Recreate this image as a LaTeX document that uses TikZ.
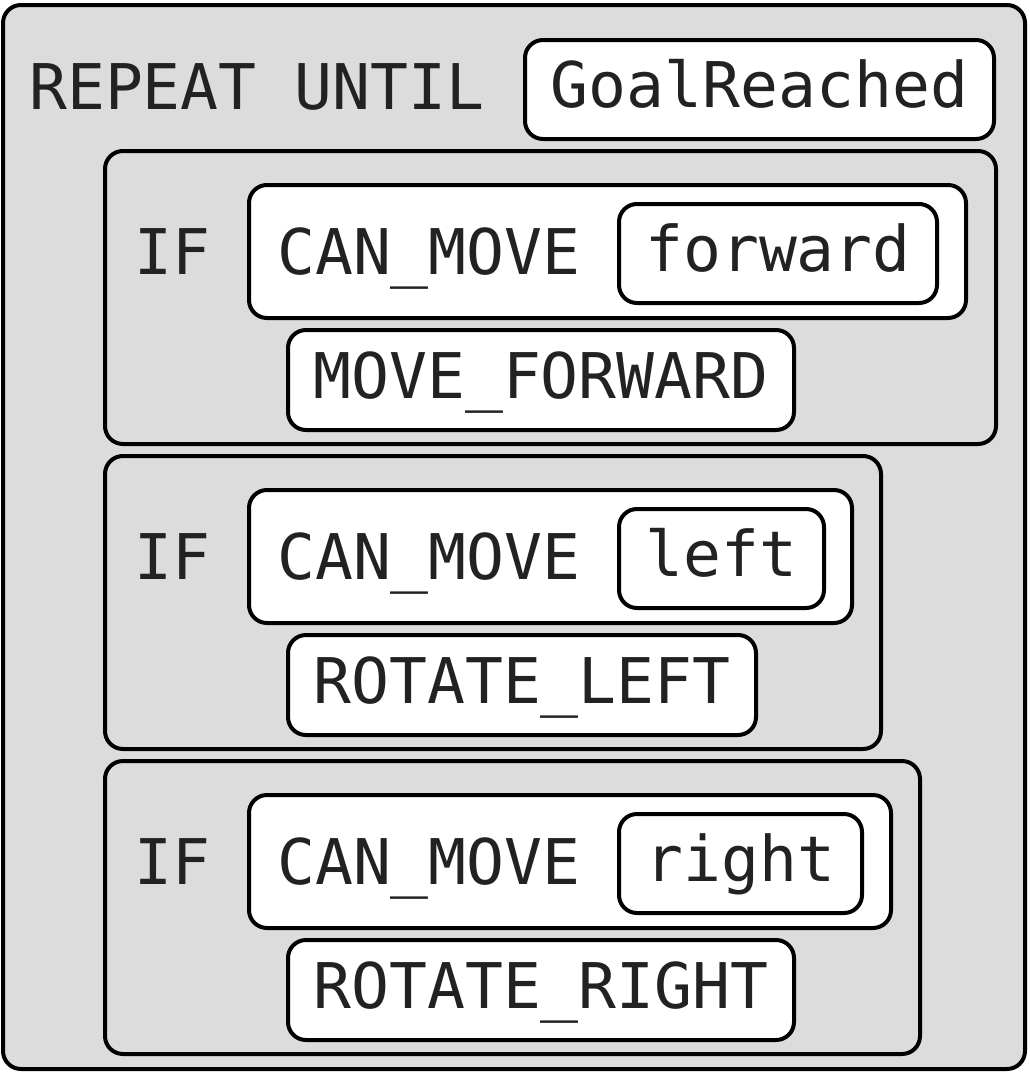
\documentclass[tikz,border=0pt]{standalone}
\usepackage{fontspec}
\setmonofont{DejaVu Sans Mono}
\definecolor{blockgray}{HTML}{DCDCDC}
\definecolor{inktext}{HTML}{222222}
\begin{document}
\begin{tikzpicture}
		[	x=1pt,y=-1pt,
		block/.style={rectangle,draw=black,line width=4pt,rounded corners=18pt,fill=blockgray,inner sep=0pt},
		slot/.style={rectangle,draw=black,line width=4pt,rounded corners=18pt,fill=white,inner sep=0pt,
			text=inktext,font=\ttfamily\fontsize{63pt}{76pt}\selectfont,text height=50.4pt,text depth=13.9pt},
		plain/.style={draw=none,fill=none,inner sep=0pt,anchor=base west,text=inktext,
			font=\ttfamily\fontsize{63pt}{76pt}\selectfont}
		]
		\useasboundingbox (0,0) rectangle (1030,1076);
		\node[block,minimum width=1022pt,minimum height=1064pt] (repeat) at (514,537){};
		\node[plain] (repeatlabel) at (29,109){REPEAT UNTIL};
		\node[slot,minimum width=469pt,minimum height=99pt] (goal) at (759.5,89.5){GoalReached};

		\node[block,minimum width=891pt,minimum height=293pt] (iffwd) at (550.5,297.5){};
		\node[block,minimum width=776pt,minimum height=293pt] (ifleft) at (493,602.5){};
		\node[block,minimum width=815pt,minimum height=293pt] (ifright) at (512.5,907.5){};

\node[slot,minimum width=717pt,minimum height=133pt] (condfwd) at (607.5,251.5){};
\node[slot,minimum width=603pt,minimum height=133pt] (condleft) at (550.5,556.5){};
\node[slot,minimum width=642pt,minimum height=133pt] (condright) at (570,861.5){};

\node[plain] (iffwdlabel) at (134,274){IF};
\node[plain] (ifleftlabel) at (134,579){IF};
\node[plain] (ifrightlabel) at (134,884){IF};
\node[plain] (canfwd) at (277,274){CAN\_MOVE};
\node[plain] (canleft) at (277,579){CAN\_MOVE};
\node[plain] (canright) at (277,884){CAN\_MOVE};

\node[slot,minimum width=318pt,minimum height=99pt] (fwd) at (778,253.5){forward};
\node[slot,minimum width=205pt,minimum height=99pt] (left) at (721.5,558.5){left};
\node[slot,minimum width=243pt,minimum height=99pt] (right) at (740.5,863.5){right};

\node[slot,minimum width=506pt,minimum height=100pt] (moveforward) at (541,380){MOVE\_FORWARD};
\node[slot,minimum width=468pt,minimum height=100pt] (rotateleft) at (522,685){ROTATE\_LEFT};
\node[slot,minimum width=506pt,minimum height=100pt] (rotateright) at (541,990){ROTATE\_RIGHT};
	\end{tikzpicture}
\end{document}
